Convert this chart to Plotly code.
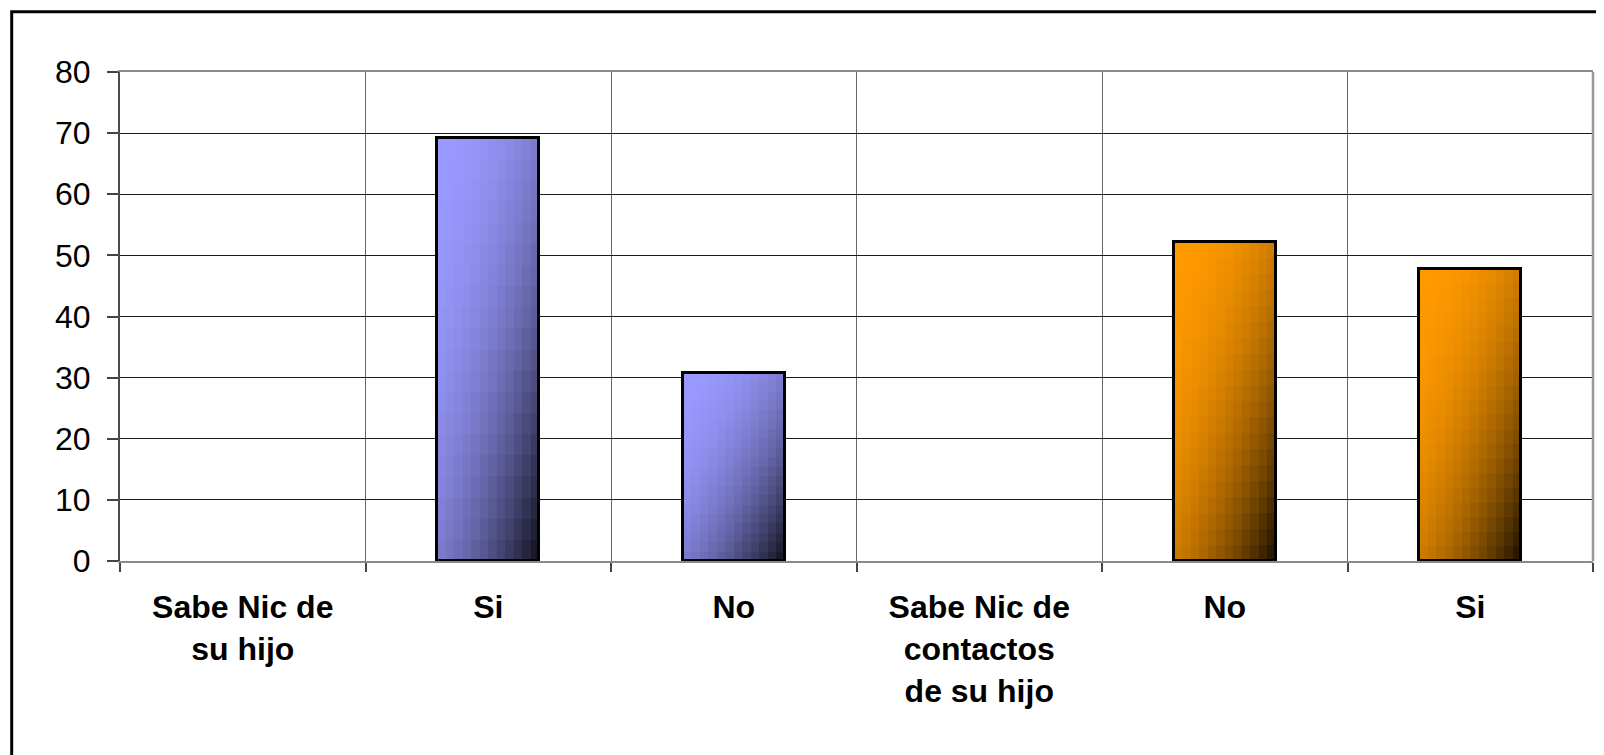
import plotly.graph_objects as go

# ---- data ----
categories = ["Sabe Nic de<br>su hijo", "Si", "No",
              "Sabe Nic de<br>contactos<br>de su hijo", "No", "Si"]
values = [None, 69.2, 30.8, None, 52.2, 47.8]
group = ["A", "A", "A", "B", "B", "B"]
y_ticks = [0, 10, 20, 30, 40, 50, 60, 70, 80]

# ---- style ----
base_rgb = {"A": (153, 153, 255), "B": (255, 153, 0)}
BAR_W = 0.415
N_COLS, N_ROWS = 12, 20
FONT = "Liberation Sans, Arial, sans-serif"

x_idx = list(range(len(categories)))


def shade(rgb, f):
    return "rgb(%d,%d,%d)" % tuple(max(0, min(255, round(c * f))) for c in rgb)


fig = go.Figure()

# gradient fill built from bar segments (diagonal, light top-left -> dark bottom-right)
for j in range(N_COLS):
    u = (j + 0.5) / N_COLS
    for k in range(N_ROWS):
        s = 1 - (k + 0.5) / N_ROWS
        d = (u + s) / 2
        f = 1 - 0.9 * d ** 2.2
        fig.add_trace(go.Bar(
            x=x_idx,
            y=[None if v is None else v / N_ROWS for v in values],
            base=[None if v is None else v * k / N_ROWS for v in values],
            width=BAR_W / N_COLS,
            offset=-BAR_W / 2 + j * BAR_W / N_COLS,
            marker=dict(color=[shade(base_rgb[g], f) for g in group],
                        line=dict(width=0)),
            hoverinfo="skip", showlegend=False,
        ))

# outline
fig.add_trace(go.Bar(
    x=x_idx, y=values, width=BAR_W, offset=-BAR_W / 2,
    marker=dict(color="rgba(0,0,0,0)", line=dict(color="black", width=3)),
    hoverinfo="skip", showlegend=False,
))

# page body has an 8px margin; figure sized so it ends at the window edges
W, H = 1596, 747
L, R, T, B = 112, 11, 64, 194
pw, ph = W - L - R, H - T - B

fig.update_layout(
    width=W, height=H,
    margin=dict(l=L, r=R, t=T, b=B),
    barmode="overlay",
    bargap=0,
    paper_bgcolor="white", plot_bgcolor="white",
    font=dict(family=FONT, color="black"),
    xaxis=dict(
        type="category",
        tickmode="array", tickvals=x_idx, ticktext=categories,
        tickson="boundaries",
        range=[-0.5, len(categories) - 0.5],
        showgrid=True, gridcolor="#666666", gridwidth=1,
        ticks="outside", ticklen=9, tickcolor="#444444", tickwidth=1.5,
        showline=True, linecolor="#8a8a8a", linewidth=2, mirror=True,
        tickfont=dict(family=FONT, size=32, color="black", weight="bold"),
        ticklabelstandoff=17,
    ),
    yaxis=dict(
        range=[0, 80], tickvals=y_ticks,
        showgrid=True, gridcolor="#1a1a1a", gridwidth=1,
        zeroline=False,
        ticks="outside", ticklen=11, tickcolor="#444444", tickwidth=1.5,
        showline=True, linecolor="#4a4a4a", linewidth=2,
        tickfont=dict(family=FONT, size=32, color="black"),
        ticklabelstandoff=10,
    ),
    shapes=[
        # right border of plot area
        dict(type="line", xref="paper", yref="paper", x0=1, x1=1, y0=0, y1=1,
             line=dict(color="#999999", width=2.5)),
        # outer chart frame (extends past right/bottom edges)
        dict(type="rect", xref="paper", yref="paper",
             x0=(3.7 - L) / pw, x1=(W + 20 - L) / pw,
             y0=-(B + 20) / ph, y1=(H - B - 3.7) / ph,
             line=dict(color="black", width=3), fillcolor="rgba(0,0,0,0)"),
    ],
)

fig.write_html("out.html")
